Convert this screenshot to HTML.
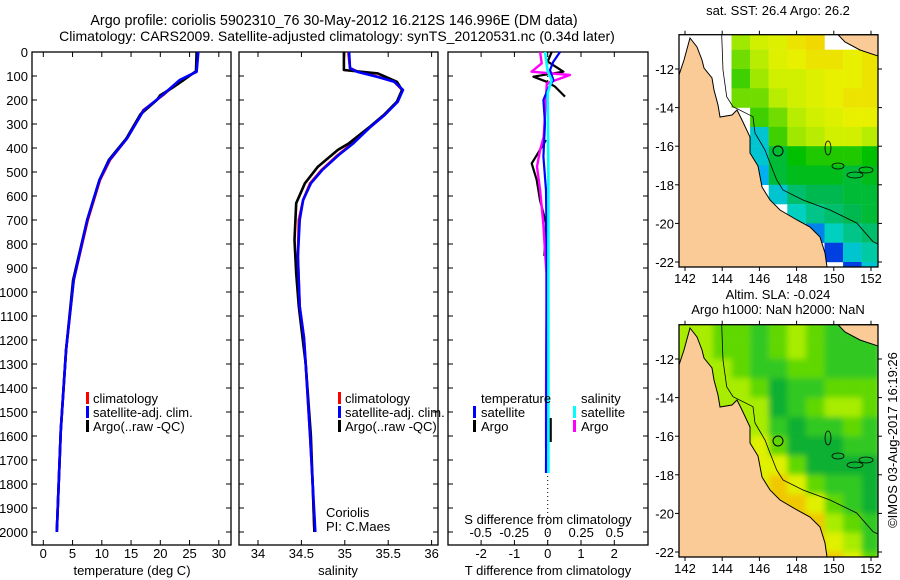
<!DOCTYPE html>
<html><head><meta charset="utf-8"><style>
body{margin:0;background:#fff;}
svg{display:block;font-family:"Liberation Sans",sans-serif;}
text{font-size:13px;fill:#000;}
</style></head><body>
<svg id="fig" width="900" height="580" viewBox="0 0 900 580" xmlns="http://www.w3.org/2000/svg">
<text x="334" y="25" text-anchor="middle" style="font-size:14.3px">Argo profile: coriolis 5902310_76 30-May-2012 16.212S 146.996E (DM data)</text>
<text x="337" y="41" text-anchor="middle" style="font-size:14px">Climatology: CARS2009. Satellite-adjusted climatology: synTS_20120531.nc (0.34d later)</text>
<text x="778" y="15" text-anchor="middle">sat. SST: 26.4 Argo: 26.2</text>
<text x="778" y="299" text-anchor="middle">Altim. SLA: -0.024</text>
<text x="778" y="314" text-anchor="middle">Argo h1000: NaN h2000: NaN</text>
<text transform="translate(897,440) rotate(-90)" text-anchor="middle">©IMOS 03-Aug-2017 16:19:26</text>
<g id="g"></g>
</svg>
<script>
// ---- data ----
const depthTicks=[0,100,200,300,400,500,600,700,800,900,1000,1100,1200,1300,1400,1500,1600,1700,1800,1900,2000];
const tempTicks=[0,5,10,15,20,25,30];
const salTicks=[34,34.5,35,35.5,36];
const tdTicks=[-2,-1,0,1,2];
const sdTicks=[-0.5,-0.25,0,0.25,0.5];
const sdTickLabels=["-0.5","-0.25","0","0.25","0.5"];

const tempDepth=[0,82,117,179,242,360,450,533,700,950,1240,1575,2000];
const tempClim=[26.4,26.2,23.4,20.5,17.1,14.3,11.4,9.7,7.6,5.2,3.9,3.0,2.3];
const tempSat=[26.5,26.2,23.3,20.4,17.2,14.3,11.3,9.6,7.5,5.2,3.9,3.0,2.3];
const tempArgoDepth=[0,80,120,150,180,200,260,360,450,533,700,950,1240,1575,2000];
const tempArgo=[26.2,26.1,23.8,22.0,20.0,19.4,16.6,14.2,11.2,9.6,7.5,5.1,3.9,3.0,2.3];

const salDepth=[0,67,82,103,124,158,207,262,311,380,429,492,547,617,700,853,1061,1192,1300,1600,1800,2000];
const salClim=[35.04,35.06,35.15,35.38,35.57,35.66,35.61,35.46,35.30,35.09,34.92,34.73,34.60,34.52,34.47,34.46,34.48,34.53,34.55,34.60,34.63,34.65];
const salSat=[35.05,35.06,35.14,35.37,35.57,35.67,35.61,35.46,35.30,35.10,34.93,34.74,34.61,34.52,34.48,34.46,34.48,34.53,34.55,34.60,34.63,34.66];
const salArgoDepth=[0,75,89,124,158,207,262,311,380,408,478,547,630,783,922,1061,1300,1600,2000];
const salArgo=[34.99,34.99,35.38,35.60,35.66,35.60,35.45,35.29,35.05,34.92,34.69,34.54,34.44,34.42,34.44,34.47,34.55,34.61,34.65];

const tdSatDepth=[0,40,75,117,150,200,296,436,575,783,1033,1325,1754];
const tdSat=[0.37,0.17,0.07,0.17,0.02,-0.13,-0.08,-0.13,-0.05,-0.03,-0.03,-0.04,-0.05];
const tdArgoDepth=[0,40,82,103,124,144,186,250,367,464,533,617,713,850,1200,1525,1625];
const tdArgo=[0.12,0,0.47,-0.43,-0.03,0.22,0.52,null,-0.05,-0.48,-0.33,-0.23,-0.05,-0.1,null,0.09,0.09];
const sdSatDepth=[0,80,117,170,500,1000,1754];
const sdSat=[-0.02,0,0.03,0,0.005,0.005,0.005];
const sdArgoDepth=[0,47,82,96,131,353,408,478,575,714,922,1100,1400,1650];
const sdArgo=[-0.057,-0.045,-0.12,0.166,-0.007,-0.03,-0.057,-0.08,-0.057,-0.033,-0.01,-0.01,-0.012,-0.012];

const mapLonTicks=[142,144,146,148,150,152];
const mapLatTicks=[-12,-14,-16,-18,-20,-22];
const mapLons=[142,143,144,145,146,147,148,149,150,151,152];
const mapLats=[-10.5,-11.5,-12.5,-13.5,-14.5,-15.5,-16.5,-17.5,-18.5,-19.5,-20.5,-21.5,-22.5];
const N=null;
const sstGrid=[
[N,N,N,26.4,26.6,26.7,26.9,27.0,N,N,N],
[N,N,N,26.3,26.5,26.7,26.8,26.9,26.9,26.8,26.9],
[N,N,N,26.2,26.4,26.6,26.6,26.7,26.8,26.8,26.9],
[N,N,N,26.3,26.3,26.5,26.6,26.7,26.8,26.9,26.9],
[N,N,N,N,26.2,26.3,26.5,26.6,26.7,26.8,26.8],
[N,N,N,N,25.2,26.2,26.4,26.5,26.6,26.6,26.5],
[N,N,N,N,25.2,25.8,26.0,26.1,26.1,26.1,26.0],
[N,N,N,N,25.0,25.8,25.9,25.9,25.9,25.8,25.9],
[N,N,N,N,N,25.2,25.6,25.7,25.7,25.8,25.8],
[N,N,N,N,N,N,25.3,25.5,25.6,25.7,25.8],
[N,N,N,N,N,N,N,24.8,25.3,25.5,25.6],
[N,N,N,N,N,N,N,N,24.5,25.2,25.4],
[N,N,N,N,N,N,N,N,N,24.5,25.2]];
const slaGrid=[
[3,3,2,2,1,2,3,2,1,1,1],
[3,3,2,2,1,2,3,2,1,1,1],
[3,3,3,2,1,1,2,2,1,1,1],
[3,3,3,3,2,0,1,1,2,2,2],
[3,3,3,3,3,0,1,2,3,3,2],
[3,3,3,3,3,1,0,1,1,2,1],
[3,3,3,3,4,2,0,0,0,1,1],
[4,4,4,4,4,4,2,0,0,0,0],
[4,4,4,4,4,5,4,2,1,1,0],
[4,4,4,4,4,5,5,4,2,1,0],
[4,4,4,4,4,5,5,5,3,2,1],
[4,4,4,4,4,5,5,5,4,3,1],
[4,4,4,4,4,5,5,5,5,4,2]];

// ---- helpers ----
const NS="http://www.w3.org/2000/svg";
const G=document.getElementById('g');
function el(tag,attrs,parent){const e=document.createElementNS(NS,tag);for(const k in attrs)e.setAttribute(k,attrs[k]);(parent||G).appendChild(e);return e;}
const yD=d=>52+d*0.24;
const xT=t=>43.3+t*5.85;
const xS=s=>258+(s-34)*86.8;
const xTd=v=>547.7+v*33.3;
const xSd=v=>547.7+v*134;
const BOT=545, TOP=52;

function frame(x0,x1,name){
  const r=el('rect',{x:x0,y:TOP,width:x1-x0,height:BOT-TOP,fill:'none',stroke:'#000','stroke-width':1.3});
  
  
  depthTicks.forEach(d=>{
    el('line',{x1:x0,x2:x0+5,y1:yD(d),y2:yD(d),stroke:'#000'});
    el('line',{x1:x1,x2:x1-5,y1:yD(d),y2:yD(d),stroke:'#000'});
  });
}
function xticks(vals,fx,labels,ly){
  vals.forEach((v,i)=>{
    el('line',{x1:fx(v),x2:fx(v),y1:BOT,y2:BOT-5,stroke:'#000'});
    el('line',{x1:fx(v),x2:fx(v),y1:TOP,y2:TOP+5,stroke:'#000'});
    const t=el('text',{x:fx(v),y:ly,'text-anchor':'middle'});t.textContent=labels[i];
    
    
  });
}
function line(depths,vals,fx,color,name,w){
  let d='',pen=false;
  depths.forEach((dep,i)=>{const v=vals[i];if(v===null){pen=false;return;}d+=(pen?'L':'M')+fx(v).toFixed(1)+','+yD(dep).toFixed(1);pen=true;});
  const p=el('path',{d:d,fill:'none',stroke:color,'stroke-width':w||2.6,'stroke-linejoin':'round'});
  
  
}
function label(x,y,txt,name,anchor){const t=el('text',{x:x,y:y,'text-anchor':anchor||'start'});t.textContent=txt;
  
  return t;}
function legBar(x,y,c){el('rect',{x:x,y:y-11,width:3,height:12,fill:c});}

depthTicks.forEach(d=>{label(28,yD(d)+5,String(d),'y-tick-label','end');});

// panel 1 temperature
frame(32,231,'temperature-panel');
xticks(tempTicks,xT,tempTicks.map(String),558);
line(tempDepth,tempClim,xT,'#f00','temp-climatology-line');
line(tempArgoDepth,tempArgo,xT,'#000','temp-argo-line');
line(tempDepth,tempSat,xT,'#00f','temp-satellite-line');
label(132,575,'temperature (deg C)','x-axis-title-temperature','middle');
legBar(86,403,'#f00');label(93,403,'climatology','legend-climatology');
legBar(86,417,'#00f');label(93,417,'satellite-adj. clim.','legend-satellite-adj');
legBar(86,431,'#000');label(93,431,'Argo(..raw -QC)','legend-argo');

// panel 2 salinity
frame(239,438,'salinity-panel');
xticks(salTicks,xS,["34","34.5","35","35.5","36"],558);
line(salDepth,salClim,xS,'#f00','sal-climatology-line');
line(salArgoDepth,salArgo,xS,'#000','sal-argo-line');
line(salDepth,salSat,xS,'#00f','sal-satellite-line');
label(338,575,'salinity','x-axis-title-salinity','middle');
legBar(338,403,'#f00');label(345,403,'climatology','legend-climatology-2');
legBar(338,417,'#00f');label(345,417,'satellite-adj. clim.','legend-satellite-adj-2');
legBar(338,431,'#000');label(345,431,'Argo(..raw -QC)','legend-argo-2');
label(326,517,'Coriolis','pi-institution');
label(326,531,'PI: C.Maes','pi-name');

// panel 3 differences
frame(448,648,'difference-panel');
xticks(tdTicks,xTd,tdTicks.map(String),558);
sdTicks.forEach((v,i)=>{label(xSd(v),537,sdTickLabels[i],'s-diff-tick-label','middle');});
el('line',{x1:547.7,x2:547.7,y1:TOP,y2:BOT,stroke:'#000','stroke-dasharray':'1,3'});
line(tdArgoDepth,tdArgo,xTd,'#000','tdiff-argo-line',2.2);
line(sdArgoDepth,sdArgo,xSd,'#f0f','sdiff-argo-line',2.4);
line(tdSatDepth,tdSat,xTd,'#00f','tdiff-satellite-line',2.2);
line(sdSatDepth,sdSat,xSd,'#0ff','sdiff-satellite-line',2.6);
label(548,524,'S difference from climatology','s-diff-axis-title','middle');
label(548,575,'T difference from climatology','t-diff-axis-title','middle');
label(481,403,'temperature','legend-temperature-header');
legBar(473,417,'#00f');label(481,417,'satellite','legend-t-satellite');
legBar(473,431,'#000');label(481,431,'Argo','legend-t-argo');
label(581,403,'salinity','legend-salinity-header');
legBar(573,417,'#0ff');label(581,417,'satellite','legend-s-satellite');
legBar(573,431,'#f0f');label(581,431,'Argo','legend-s-argo');

// ---- maps ----
const MX0=679,MX1=878;
const mx=lon=>685+(lon-142)*18.6;
function sstColor(v){
  const stops=[[24.5,[0,64,224]],[25.0,[0,176,240]],[25.3,[0,208,192]],[25.7,[0,184,80]],[26.0,[0,192,0]],[26.2,[64,208,0]],[26.4,[160,232,0]],[26.6,[208,240,0]],[26.8,[232,240,0]],[27.0,[240,216,0]]];
  if(v<=stops[0][0])return 'rgb('+stops[0][1]+')';
  for(let i=1;i<stops.length;i++){if(v<=stops[i][0]){const a=stops[i-1],b=stops[i],f=(v-a[0])/(b[0]-a[0]);return 'rgb('+a[1].map((c,k)=>Math.round(c+(b[1][k]-c)*f)).join(',')+')';}}
  return 'rgb('+stops[stops.length-1][1]+')';
}
const slaColors=['#10b030','#30c820','#60d800','#a8ec00','#e0f000','#f0c800'];
const defs=el('defs',{});
const f=el('filter',{id:'blur',x:'-10%',y:'-10%',width:'120%',height:'120%'},defs);
el('feGaussianBlur',{stdDeviation:3},f);
function map(off,name,grid,colorFn,blur){
  const my=lat=>69+off+(-12-lat)*19.3;
  const Y0=34.7+off,Y1=267+off;
  const cp=el('clipPath',{id:'clip'+off},defs);
  el('rect',{x:MX0,y:Y0,width:MX1-MX0,height:Y1-Y0},cp);
  const mg=el('g',{'clip-path':'url(#clip'+off+')'});
  
  
  el('rect',{x:MX0,y:Y0,width:MX1-MX0,height:Y1-Y0,fill:'#fff'},mg);
  const cg=el('g',blur?{filter:'url(#blur)'}:{},mg);
  grid.forEach((row,r)=>row.forEach((v,c)=>{
    if(v===null)return;
    const cell=el('rect',{x:mx(mapLons[c]-0.5),y:my(mapLats[r]+0.5),width:18.8,height:19.5,fill:colorFn(v)},cg);
    
    
  }));
  const coast=[[690,38],[697,47],[702,60],[704,68],[712,78],[714,90],[718,105],[720,117],[732,115],[737,110],[742,120],[750,137],[750,153],[758,166],[762,187],[770,200],[780,210],[797,220],[810,227],[820,237],[825,253],[827,267],[679,267],[679,75],[684,60]];
  const land=el('polygon',{points:coast.map(p=>p[0]+','+(p[1]+off)).join(' '),fill:'#FACB96',stroke:'#000','stroke-width':1},mg);
  
  
  el('polygon',{points:[[838,34.7],[878,34.7],[878,56],[860,50],[845,42]].map(p=>p[0]+','+(p[1]+off)).join(' '),fill:'#FACB96',stroke:'#000','stroke-width':1},mg);
  const iso=[[721.7,34.7],[723,70],[726.7,96.7],[733,106.7],[753,116.7],[755,133],[765,150],[770,163],[776.7,180],[783,190],[803,200],[830,210],[856.7,223],[873,241.7],[878,244]];
  el('polyline',{points:iso.map(p=>p[0]+','+(p[1]+off)).join(' '),fill:'none',stroke:'#000','stroke-width':0.8},mg);
  [[828,148,3,7],[838,166,6,3],[855,175,8,3],[866,170,7,3]].forEach(e=>el('ellipse',{cx:e[0],cy:e[1]+off,rx:e[2],ry:e[3],fill:'none',stroke:'#000','stroke-width':0.8},mg));
  const mk=el('circle',{cx:778,cy:151+off,r:5,fill:'none',stroke:'#000','stroke-width':1},mg);
  
  
  el('rect',{x:MX0,y:Y0,width:MX1-MX0,height:Y1-Y0,fill:'none',stroke:'#000','stroke-width':1.3});
  mapLonTicks.forEach(lon=>{
    el('line',{x1:mx(lon),x2:mx(lon),y1:Y1,y2:Y1+4,stroke:'#000'});
    el('line',{x1:mx(lon),x2:mx(lon),y1:Y0,y2:Y0-4,stroke:'#000'});
    label(mx(lon),Y1+16,String(lon),'map-lon-label','middle');
  });
  mapLatTicks.forEach(lat=>{
    el('line',{x1:MX0,x2:MX0-4,y1:my(lat),y2:my(lat),stroke:'#000'});
    el('line',{x1:MX1,x2:MX1+4,y1:my(lat),y2:my(lat),stroke:'#000'});
    label(MX0-5,my(lat)+5,String(lat),'map-lat-label','end');
  });
}
map(0,'sst-map',sstGrid,sstColor,false);
map(290,'sla-map',slaGrid,v=>slaColors[v],true);
</script>
</body></html>
